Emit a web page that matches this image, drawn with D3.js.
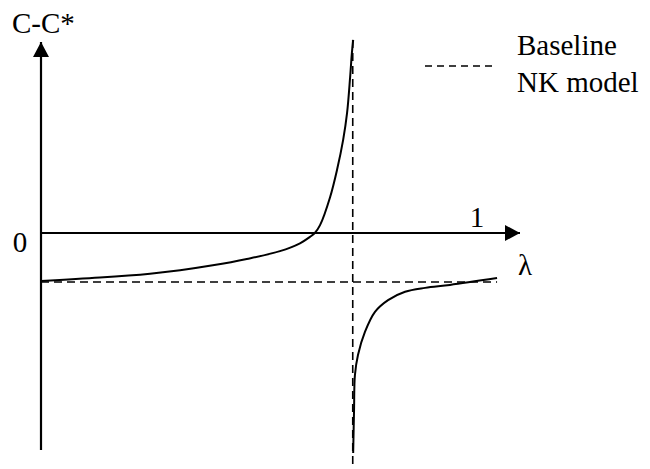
<!DOCTYPE html>
<html>
<head>
<meta charset="utf-8">
<script src="https://cdn.jsdelivr.net/npm/d3@7"></script>
<style>
    html, body { margin: 0; padding: 0; background: #fff; }
    svg { display: block; }
    svg text { font-family: "Liberation Serif", Times, "DejaVu Serif", serif; }
</style>
</head>
<body>
<div id="chart"></div>
<script>
// 左支：λ -> C-C*
var leftBranch = [
    [0.000, -0.98], [0.135, -0.91], [0.250, -0.83], [0.319, -0.76],
    [0.394, -0.66], [0.472, -0.53], [0.548, -0.37], [0.594, -0.21],
    [0.617, -0.08], [0.628, 0.00], [0.640, 0.16], [0.663, 0.73],
    [0.679, 1.29], [0.693, 1.90], [0.702, 2.45], [0.709, 3.18],
    [0.713, 3.67], [0.716, 3.94]
];
// 右支
var rightBranch = [
    [0.716, -4.49], [0.718, -3.61], [0.720, -2.90], [0.727, -2.49],
    [0.743, -2.02], [0.766, -1.61], [0.796, -1.37], [0.835, -1.20],
    [0.881, -1.12], [0.938, -1.06], [1.046, -0.92]
];
// NK model 基准线 / 渐近线
var baselineLevel = -1;
var baselineRange = [0, 1.046];
var poleLambda = 0.715;
var poleRange = [3.94, -4.8];
var xTicks = [1];
var yTicks = [0];
var labels = { y: "C-C*", x: "\u03bb", legend: ["Baseline", "NK model"] };

(function () {
    "use strict";
    var width = 650, height = 469;
    var x0 = 41, y0 = 233;

    var x = d3.scaleLinear().domain([0, 1]).range([x0, 477]);
    var y = d3.scaleLinear().domain([0, -1]).range([y0, 282]);

    var svg = d3.select("#chart").append("svg")
        .attr("width", width).attr("height", height);

    var defs = svg.append("defs");
    defs.append("marker").attr("id", "arr")
        .attr("viewBox", "0 0 15 16").attr("refX", 15).attr("refY", 8)
        .attr("markerWidth", 15).attr("markerHeight", 16)
        .attr("markerUnits", "userSpaceOnUse").attr("orient", "auto")
        .append("path").attr("d", "M0,0L15,8L0,16Z").attr("fill", "#000");

    // 坐标轴
    svg.append("line")
        .attr("x1", x0).attr("y1", 450).attr("x2", x0).attr("y2", 42)
        .attr("stroke", "#000").attr("stroke-width", 2.2)
        .attr("marker-end", "url(#arr)");
    svg.append("line")
        .attr("x1", x0).attr("y1", y0).attr("x2", 520).attr("y2", y0)
        .attr("stroke", "#000").attr("stroke-width", 2)
        .attr("marker-end", "url(#arr)");

    // 虚线
    svg.append("line")
        .attr("x1", x(baselineRange[0])).attr("x2", x(baselineRange[1]))
        .attr("y1", y(baselineLevel)).attr("y2", y(baselineLevel))
        .attr("stroke", "#000").attr("stroke-width", 1.6)
        .attr("stroke-dasharray", "8,5");
    svg.append("line")
        .attr("x1", x(poleLambda)).attr("x2", x(poleLambda))
        .attr("y1", y(poleRange[0])).attr("y2", y(poleRange[1]))
        .attr("stroke", "#000").attr("stroke-width", 1.6)
        .attr("stroke-dasharray", "8,5");

    // 曲线
    var line = d3.line()
        .x(function (d) { return x(d[0]); })
        .y(function (d) { return y(d[1]); })
        .curve(d3.curveCatmullRom.alpha(0.5));
    [leftBranch, rightBranch].forEach(function (b) {
        svg.append("path").datum(b).attr("d", line)
            .attr("fill", "none").attr("stroke", "#000").attr("stroke-width", 2);
    });

    // 文字
    function txt(sel) {
        return sel.style("font-size", "29px").attr("fill", "#000");
    }
    txt(svg.append("text").attr("x", 12).attr("y", 33)).text(labels.y);
    txt(svg.selectAll(".ytick").data(yTicks).enter().append("text")
        .attr("x", 20).attr("y", function (d) { return y(d) + 19; })
        .attr("text-anchor", "middle"))
        .text(function (d) { return d; });
    txt(svg.selectAll(".xtick").data(xTicks).enter().append("text")
        .attr("x", function (d) { return x(d); }).attr("y", 227)
        .attr("text-anchor", "middle"))
        .text(function (d) { return d; });
    txt(svg.append("text").attr("x", 518).attr("y", 275)).text(labels.x);

    // 图例
    svg.append("line")
        .attr("x1", 425).attr("x2", 497).attr("y1", 66).attr("y2", 66)
        .attr("stroke", "#000").attr("stroke-width", 1.6)
        .attr("stroke-dasharray", "7,5");
    txt(svg.selectAll(".leg").data(labels.legend).enter().append("text")
        .attr("x", 517).attr("y", function (d, i) { return 55 + i * 37; }))
        .text(function (d) { return d; });
})();
</script>
</body>
</html>
